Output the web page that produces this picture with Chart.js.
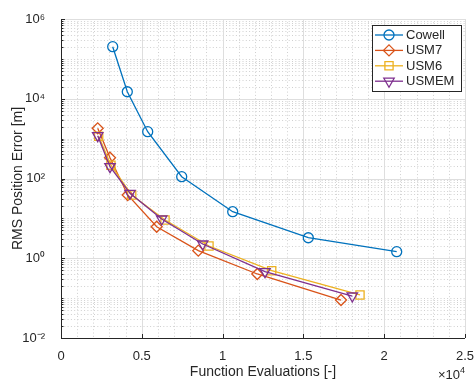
<!DOCTYPE html>
<html>
<head>
<meta charset="utf-8">
<script src="https://cdn.jsdelivr.net/npm/chart.js@4"></script>
<style>
  html, body { margin: 0; padding: 0; background: #ffffff; }
  #wrap { width: 476px; height: 381px; }
</style>
</head>
<body>
<div id="wrap"><canvas id="errChart" width="476" height="381"></canvas></div>
<script>
// Values
const seriesNames = ['Cowell', 'USM7', 'USM6', 'USMEM'];

const cowellEvals = [3199, 4103, 5365, 7469, 10625, 15303, 20773];
const cowellError = [2.02e5, 1.50e4, 1493, 111, 14.7, 3.27, 1.46];

const usm7Evals = [2271, 3032, 4127, 5922, 8496, 12147, 17327];
const usm7Error = [1815, 333, 38.6, 6.18, 1.55, 0.403, 0.0897];

const usm6Evals = [2330, 3090, 4375, 6436, 9158, 13038, 18502];
const usm6Error = [1150, 215, 38.5, 9.1, 2.03, 0.488, 0.120];

const usmemEvals = [2271, 3032, 4270, 6231, 8769, 12624, 18026];
const usmemError = [1185, 198, 42.5, 9.65, 2.28, 0.46, 0.113];

const xTicks = [0, 5000, 10000, 15000, 20000, 25000];
const yExponents = [-2, 0, 2, 4, 6];

const colors = ['#0072BD', '#D95319', '#EDB120', '#7E2F8E'];
const markers = [
    { style: 'circle', radius: 5, rotation: 0 },
    { style: 'rectRot', radius: 5.5, rotation: 0 },
    { style: 'rect', radius: 5.8, rotation: 0 },
    { style: 'triangle', radius: 6, rotation: 180 }
];

const FONT = '"Liberation Sans", Arial, Helvetica, sans-serif';
const AXIS_COLOR = '#262626';

const supMap = { '-': '\u207B', '0': '\u2070', '1': '\u00B9', '2': '\u00B2', '3': '\u00B3',
    '4': '\u2074', '5': '\u2075', '6': '\u2076', '7': '\u2077', '8': '\u2078', '9': '\u2079' };
const sup = (s) => String(s).split('').map(c => supMap[c] || c).join('');

function toPoints(xs, ys) {
    return xs.map((x, i) => ({ x: x, y: ys[i] }));
}

const allEvals = [cowellEvals, usm7Evals, usm6Evals, usmemEvals];
const allErrors = [cowellError, usm7Error, usm6Error, usmemError];

const datasets = seriesNames.map((name, i) => ({
    label: name,
    data: toPoints(allEvals[i], allErrors[i]),
    borderColor: colors[i],
    backgroundColor: 'rgba(0,0,0,0)',
    borderWidth: 1.3,
    pointStyle: markers[i].style,
    pointRadius: markers[i].radius,
    pointRotation: markers[i].rotation,
    pointBorderWidth: 1.3,
    pointBorderColor: colors[i],
    pointBackgroundColor: 'rgba(0,0,0,0)',
    fill: false,
    tension: 0,
    order: seriesNames.length - 1 - i
}));

// MATLAB style grid: solid major lines, dotted minor lines, inward ticks
const gridPlugin = {
    id: 'matlabGrid',
    beforeDatasetsDraw(chart) {
        const { ctx, chartArea: a, scales: { x, y } } = chart;
        ctx.save();
        ctx.lineWidth = 1;

        // minor dotted
        ctx.strokeStyle = '#d0d0d0';
        ctx.setLineDash([1, 2.3]);
        ctx.beginPath();
        for (let v = 1000; v < 25000; v += 1000) {
            if (v % 5000 === 0) continue;
            const px = Math.round(x.getPixelForValue(v)) + 0.5;
            ctx.moveTo(px, a.top); ctx.lineTo(px, a.bottom);
        }
        for (let e = -2; e < 6; e++) {
            for (let m = 1; m <= 9; m++) {
                if (m === 1 && e % 2 === 0) continue;
                const py = Math.round(y.getPixelForValue(m * Math.pow(10, e))) + 0.5;
                ctx.moveTo(a.left, py); ctx.lineTo(a.right, py);
            }
        }
        ctx.stroke();

        // major solid
        ctx.setLineDash([]);
        ctx.strokeStyle = '#dedede';
        ctx.beginPath();
        xTicks.forEach(v => {
            if (v === 0) return;
            const px = Math.round(x.getPixelForValue(v)) + 0.5;
            ctx.moveTo(px, a.top); ctx.lineTo(px, a.bottom);
        });
        yExponents.forEach(e => {
            if (e === -2) return;
            const py = Math.round(y.getPixelForValue(Math.pow(10, e))) + 0.5;
            ctx.moveTo(a.left, py); ctx.lineTo(a.right, py);
        });
        ctx.stroke();
        ctx.restore();
    },
    afterDatasetsDraw(chart) {
        const { ctx, chartArea: a, scales: { x, y } } = chart;
        ctx.save();
        ctx.strokeStyle = AXIS_COLOR;
        ctx.lineWidth = 1;
        ctx.beginPath();
        // axis lines
        ctx.moveTo(a.left + 0.5, a.top); ctx.lineTo(a.left + 0.5, a.bottom + 0.5);
        ctx.lineTo(a.right, a.bottom + 0.5);
        // x ticks
        xTicks.forEach(v => {
            const px = Math.round(x.getPixelForValue(v)) + 0.5;
            ctx.moveTo(px, a.bottom); ctx.lineTo(px, a.bottom - 4);
        });
        // y ticks
        for (let e = -2; e <= 6; e++) {
            for (let m = 1; m <= 9; m++) {
                if (e === 6 && m > 1) break;
                const py = Math.round(y.getPixelForValue(m * Math.pow(10, e))) + 0.5;
                const len = (m === 1 && e % 2 === 0) ? 4 : 2.5;
                ctx.moveTo(a.left, py); ctx.lineTo(a.left + len, py);
            }
        }
        ctx.stroke();

        // x10^4 exponent label
        ctx.fillStyle = AXIS_COLOR;
        ctx.textBaseline = 'alphabetic';
        ctx.textAlign = 'left';
        ctx.font = '13px ' + FONT;
        const base = '\u00D710';
        const w = ctx.measureText(base).width;
        ctx.font = '9px ' + FONT;
        const w2 = ctx.measureText('4').width;
        const startX = a.right - w - w2;
        ctx.font = '13px ' + FONT;
        ctx.fillText(base, startX, 379);
        ctx.font = '9px ' + FONT;
        ctx.fillText('4', startX + w, 373);

        // legend
        const lx = 372, ly = 25, lw = 89, lh = 66;
        ctx.fillStyle = '#ffffff';
        ctx.fillRect(lx, ly, lw, lh);
        ctx.strokeStyle = AXIS_COLOR;
        ctx.lineWidth = 1;
        ctx.strokeRect(lx + 0.5, ly + 0.5, lw, lh);
        seriesNames.forEach((name, i) => {
            const rowY = 35 + i * 15.4;
            ctx.strokeStyle = colors[i];
            ctx.lineWidth = 1.3;
            ctx.beginPath();
            ctx.moveTo(375, rowY); ctx.lineTo(403, rowY);
            ctx.stroke();
            ctx.fillStyle = 'rgba(0,0,0,0)';
            Chart.helpers.drawPoint(ctx, {
                pointStyle: markers[i].style,
                radius: markers[i].radius,
                rotation: markers[i].rotation,
                borderWidth: 1.3
            }, 389, rowY);
            ctx.fillStyle = AXIS_COLOR;
            ctx.font = '13px ' + FONT;
            ctx.textBaseline = 'middle';
            ctx.textAlign = 'left';
            ctx.fillText(name, 406, rowY + 0.5);
        });
        ctx.restore();
    }
};

const ctx = document.getElementById('errChart').getContext('2d');

new Chart(ctx, {
    type: 'line',
    data: { datasets: datasets },
    options: {
        responsive: false,
        animation: false,
        layout: { padding: { left: 0, right: 11, top: 19, bottom: 0 } },
        plugins: {
            legend: { display: false },
            tooltip: { enabled: false }
        },
        scales: {
            x: {
                type: 'linear',
                min: 0,
                max: 25000,
                grid: { display: false },
                border: { display: false },
                afterBuildTicks: (scale) => {
                    scale.ticks = xTicks.map(v => ({ value: v }));
                },
                afterFit: (scale) => {
                    scale.height = 43;
                    scale.paddingLeft = 0;
                    scale.paddingRight = 0;
                },
                ticks: {
                    color: AXIS_COLOR,
                    font: { family: FONT, size: 13 },
                    padding: 3,
                    maxRotation: 0,
                    autoSkip: false,
                    callback: (v) => String(v / 10000)
                },
                title: {
                    display: true,
                    text: 'Function Evaluations [-]',
                    color: AXIS_COLOR,
                    font: { family: FONT, size: 14 },
                    padding: { top: -1, bottom: 0 }
                }
            },
            y: {
                type: 'logarithmic',
                min: 0.01,
                max: 1e6,
                grid: { display: false },
                border: { display: false },
                afterBuildTicks: (scale) => {
                    scale.ticks = yExponents.map(e => ({ value: Math.pow(10, e) }));
                },
                afterFit: (scale) => {
                    scale.width = 61;
                    scale.paddingTop = 0;
                    scale.paddingBottom = 0;
                },
                ticks: {
                    color: AXIS_COLOR,
                    font: { family: FONT, size: 13 },
                    padding: 8,
                    autoSkip: false,
                    callback: (v) => '10' + sup(Math.round(Math.log10(v)))
                },
                title: {
                    display: true,
                    text: 'RMS Position Error [m]',
                    color: AXIS_COLOR,
                    font: { family: FONT, size: 14 },
                    padding: { top: 10, bottom: 0 }
                }
            }
        }
    },
    plugins: [gridPlugin]
});
</script>
</body>
</html>
